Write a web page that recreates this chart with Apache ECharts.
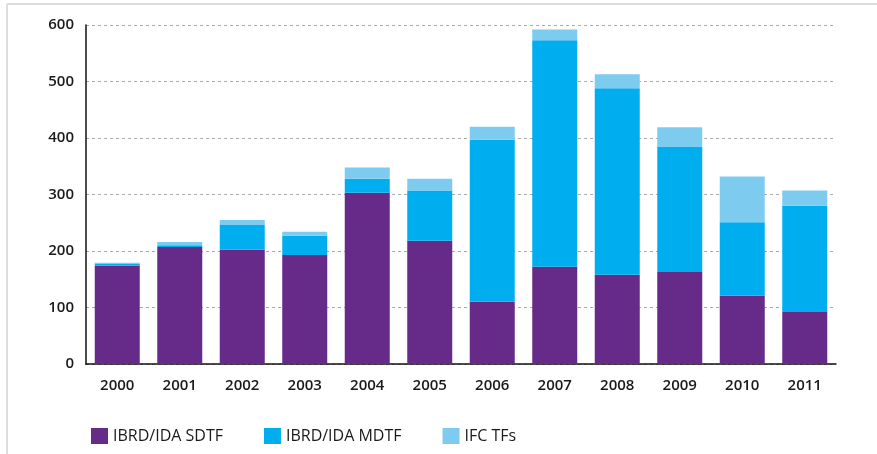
<!DOCTYPE html>
<html style="height: 100%">
<head>
    <meta charset="utf-8" />
    <title>Trust funds</title>
    <script type="text/javascript" src="https://cdn.jsdelivr.net/npm/echarts@6/dist/echarts.min.js"></script>
</head>
<body style="height: 100%; margin: 0; background: #fff">
    <div id="container" style="width: 877px; height: 454px"></div>
</body>
</html>
<script type="text/javascript">
    var years = ['2000', '2001', '2002', '2003', '2004', '2005', '2006', '2007', '2008', '2009', '2010', '2011'];
    var sdtf = [174, 207, 202, 193, 303, 218, 110, 172, 158, 163, 121, 92];
    var mdtf = [4, 3, 44, 34, 25, 89, 287, 401, 330, 222, 130, 188];
    var ifc = [1, 6, 9, 7, 20, 21, 23, 19, 25, 34, 81, 27];
    var yTicks = [0, 100, 200, 300, 400, 500, 600];

    var fontName = 'Open Sans';
    var dom = document.getElementById("container");
    var myChart = echarts.init(dom);

    function barSeries(name, data, color) {
        return {
            name: name,
            type: 'bar',
            stack: 'total',
            data: data,
            barWidth: 45,
            itemStyle: { color: color },
            emphasis: { disabled: true }
        };
    }

    var option = {
        animation: false,
        textStyle: { fontFamily: fontName },
        graphic: [
            { type: 'line', shape: { x1: 7, y1: 4, x2: 877, y2: 4 }, style: { stroke: '#dddddd', lineWidth: 2 } },
            { type: 'line', shape: { x1: 7, y1: 4, x2: 7, y2: 454 }, style: { stroke: '#dddddd', lineWidth: 2 } }
        ],
        grid: { left: 86, right: 41, top: 25, bottom: 90 },
        legend: {
            left: 86,
            top: 423,
            itemWidth: 17,
            itemHeight: 16,
            itemGap: 41,
            icon: 'rect',
            textStyle: { fontFamily: fontName, fontSize: 16, fontWeight: 500, color: '#1a1a1a' },
            data: ['IBRD/IDA SDTF', 'IBRD/IDA MDTF', 'IFC TFs']
        },
        xAxis: {
            type: 'category',
            data: years,
            axisLine: { lineStyle: { color: '#111', width: 1.5 } },
            axisTick: { inside: true, length: 8, lineStyle: { color: '#111' } },
            axisLabel: { color: '#1a1a1a', fontSize: 15, fontWeight: 600, margin: 14, fontFamily: fontName }
        },
        yAxis: {
            type: 'value',
            min: yTicks[0],
            max: yTicks[yTicks.length - 1],
            interval: 100,
            axisLine: { show: true, lineStyle: { color: '#111', width: 1.5 } },
            axisTick: { show: false },
            axisLabel: { color: '#1a1a1a', fontSize: 15, fontWeight: 600, margin: 12, fontFamily: fontName },
            splitLine: { lineStyle: { color: '#aaaaaa', type: [3, 3] } }
        },
        series: [
            barSeries('IBRD/IDA SDTF', sdtf, '#662a88'),
            barSeries('IBRD/IDA MDTF', mdtf, '#00aeef'),
            barSeries('IFC TFs', ifc, '#7ecbf0')
        ]
    };
    myChart.setOption(option);
</script>
